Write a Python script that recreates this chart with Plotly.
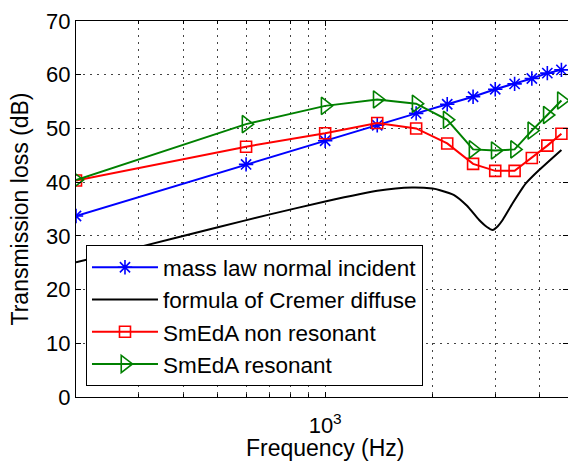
import math
import plotly.graph_objects as go

# Analysis frequencies (Hz)
freq = [200, 600, 1000, 1400, 1800, 2200, 2600, 3000, 3400, 3800, 4200, 4600]

mass_law = [33.7, 43.3, 47.7, 50.6, 52.8, 54.5, 55.9, 57.3, 58.3, 59.3, 60.3, 60.9]
smeda_nonres = [40.3, 46.6, 49.1, 51.0, 50.0, 47.2, 43.4, 42.1, 42.1, 44.5, 46.8, 49.0]
smeda_res = [40.4, 50.8, 54.2, 55.4, 54.6, 51.6, 46.1, 45.9, 46.1, 49.6, 52.5, 55.2]

cremer_freq = [200, 300, 500, 700, 1000, 1400, 1750, 2000, 2100, 2300, 2500, 2700,
               2850, 2950, 3050, 3150, 3360, 3660, 3990, 4600]
cremer_tl = [25.1, 27.9, 31.6, 34.0, 36.4, 38.4, 39.0, 38.8, 38.5, 37.6, 35.6, 33.0,
             31.6, 31.1, 31.8, 33.0, 36.1, 39.8, 42.3, 46.0]

x_range_hz = [200, 4800]
y_ticks = [0, 10, 20, 30, 40, 50, 60, 70]
x_major = [1000]
x_major_text = ["10<sup>3</sup>"]
x_minor = [300, 400, 500, 600, 700, 800, 900, 2000, 3000, 4000]
x_title = "Frequency (Hz)"
y_title = "Transmission loss (dB)"

FONT = "Liberation Sans, Arial, Helvetica, sans-serif"
GRID = dict(showgrid=True, gridcolor="#444444", gridwidth=1, griddash="2px,5px")

fig = go.Figure()
fig.add_trace(go.Scatter(
    x=freq, y=mass_law, mode="lines+markers", name="mass law normal incident",
    line=dict(color="#0000FF", width=2),
    marker=dict(symbol="asterisk-open", size=12, line=dict(color="#0000FF", width=1.6)),
))
fig.add_trace(go.Scatter(
    x=cremer_freq, y=cremer_tl, mode="lines", name="formula of Cremer diffuse",
    line=dict(color="black", width=2, shape="spline", smoothing=0.6),
))
fig.add_trace(go.Scatter(
    x=freq, y=smeda_nonres, mode="lines+markers", name="SmEdA non resonant",
    line=dict(color="#FF0000", width=2),
    marker=dict(symbol="square-open", size=11, color="#FF0000", line=dict(color="#FF0000", width=1.6)),
))
fig.add_trace(go.Scatter(
    x=freq, y=smeda_res, mode="lines+markers", name="SmEdA resonant",
    line=dict(color="#008000", width=2),
    marker=dict(symbol="triangle-right-open", size=15, color="#008000", line=dict(color="#008000", width=1.6)),
))

fig.add_annotation(
    text=x_title, xref="paper", yref="paper", x=0.507, y=0,
    xanchor="center", yanchor="middle", yshift=-51, showarrow=False,
    font=dict(family=FONT, size=23, color="black"),
)

fig.update_layout(
    width=568, height=461,
    margin=dict(l=76, r=0, t=21, b=64),
    paper_bgcolor="white", plot_bgcolor="white",
    font=dict(family=FONT, size=22, color="black"),
    showlegend=True,
    legend=dict(
        x=0.0203, y=0.029, xanchor="left", yanchor="bottom",
        bgcolor="white", bordercolor="black", borderwidth=1,
        font=dict(family=FONT, size=22.5, color="black"),
        tracegroupgap=0, itemwidth=66,
    ),
    xaxis=dict(
        type="log",
        range=[math.log10(x_range_hz[0]), math.log10(x_range_hz[1])],
        tickmode="array", tickvals=x_major, ticktext=x_major_text,
        ticks="inside", ticklen=5, tickcolor="black", tickwidth=1,
        ticklabelstandoff=9,
        showline=True, linecolor="black", linewidth=1, mirror="ticks",
        zeroline=False,
        minor=dict(tickmode="array", tickvals=x_minor, ticks="inside", ticklen=3,
                   tickcolor="black", **GRID),
        tickfont=dict(size=22),
        automargin=False,
        **GRID,
    ),
    yaxis=dict(
        range=[0, 70],
        tickmode="array", tickvals=y_ticks,
        ticks="inside", ticklen=5, tickcolor="black",
        showline=True, linecolor="black", linewidth=1, mirror="ticks",
        zeroline=False,
        title=dict(text=y_title, font=dict(size=23), standoff=11),
        tickfont=dict(size=22),
        automargin=False,
        **GRID,
    ),
)

fig.write_html(
    "out.html",
    config={"displayModeBar": False},
    post_script="document.body.style.margin='0px';document.body.style.overflow='hidden';",
)
